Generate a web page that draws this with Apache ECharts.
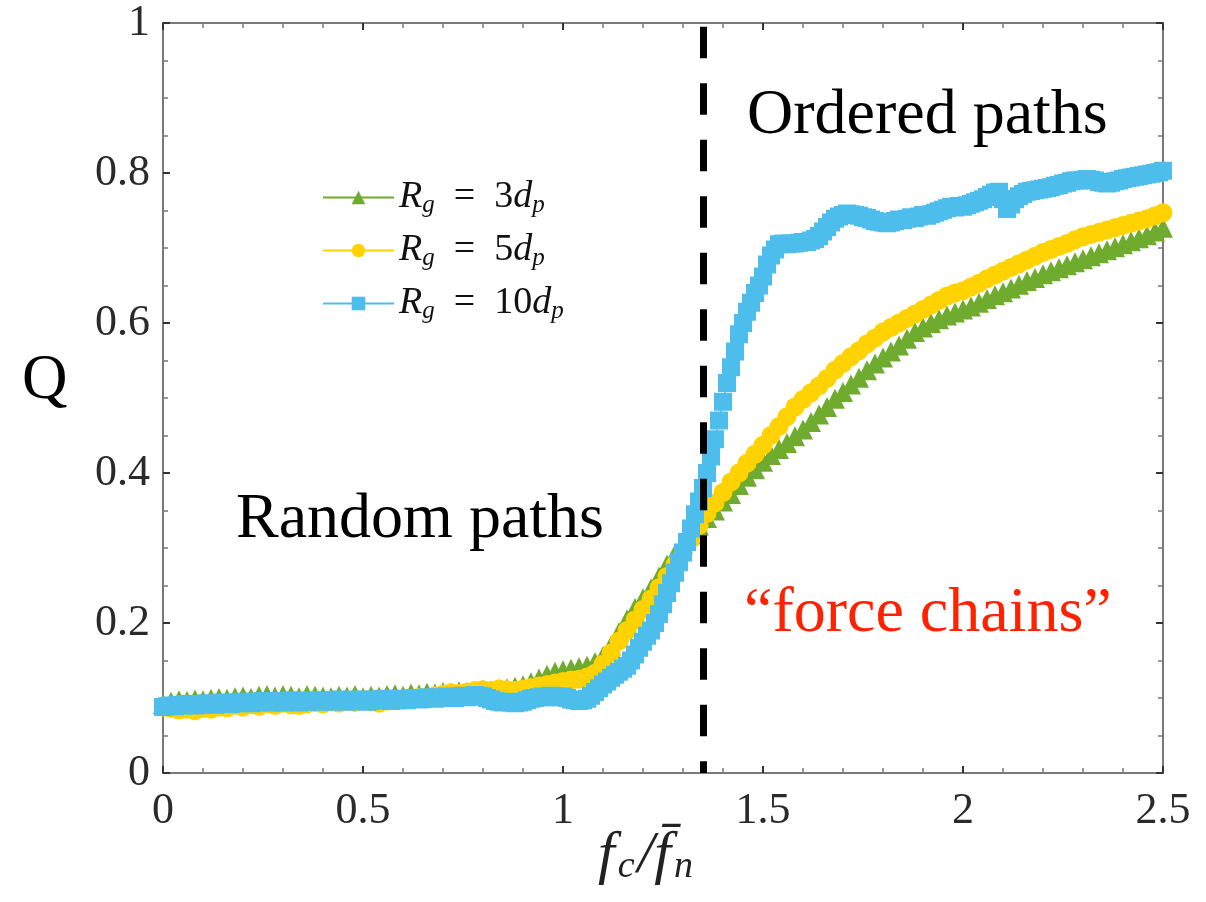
<!DOCTYPE html>
<html>
<head>
<meta charset="utf-8">
<script src="https://cdn.jsdelivr.net/npm/echarts@6/dist/echarts.min.js"></script>
<style>
  html, body { margin: 0; padding: 0; background: #fff; }
  #chart { width: 1206px; height: 902px; }
</style>
</head>
<body>
<div id="chart"></div>
<script>
// Q against f_c / mean f_n for three grain radii

// Coarse sampling (step 0.02) used by the R_g = 3d_p and 5d_p runs
const coarseStep = 0.02;
// Fine sampling (step 0.01) used by the R_g = 10d_p run
const fineStep = 0.01;

const q3 = [
  0.092, 0.095, 0.097, 0.096, 0.098, 0.097, 0.099, 0.100, 0.099, 0.101,
  0.102, 0.100, 0.103, 0.104, 0.102, 0.104, 0.103, 0.101, 0.104, 0.103,
  0.102, 0.101, 0.103, 0.102, 0.104, 0.101, 0.103, 0.102, 0.104, 0.105,
  0.103, 0.106, 0.105, 0.107, 0.106, 0.108, 0.107, 0.109, 0.108, 0.110,
  0.111, 0.110, 0.112, 0.113, 0.115, 0.117, 0.121, 0.126, 0.131, 0.135,
  0.137, 0.139, 0.141, 0.143, 0.148, 0.156, 0.170, 0.188, 0.205, 0.220,
  0.233, 0.246, 0.262, 0.278, 0.292, 0.305, 0.318, 0.330, 0.340, 0.350,
  0.362, 0.372, 0.384, 0.395, 0.405, 0.415, 0.424, 0.432, 0.440, 0.449,
  0.458, 0.468, 0.478, 0.488, 0.499, 0.508, 0.518, 0.527, 0.537, 0.546,
  0.554, 0.562, 0.570, 0.579, 0.588, 0.594, 0.600, 0.605, 0.610, 0.614,
  0.618, 0.622, 0.627, 0.632, 0.637, 0.641, 0.646, 0.651, 0.656, 0.660,
  0.665, 0.669, 0.673, 0.677, 0.681, 0.685, 0.689, 0.693, 0.697, 0.701,
  0.705, 0.709, 0.713, 0.717, 0.722, 0.727
];

const q5 = [
  0.088, 0.086, 0.084, 0.085, 0.083, 0.086, 0.085, 0.088, 0.087, 0.090,
  0.088, 0.091, 0.089, 0.092, 0.090, 0.093, 0.091, 0.090, 0.092, 0.094,
  0.092, 0.095, 0.093, 0.096, 0.094, 0.097, 0.095, 0.093, 0.096, 0.098,
  0.097, 0.099, 0.101, 0.100, 0.103, 0.105, 0.107, 0.106, 0.108, 0.110,
  0.111, 0.110, 0.112, 0.111, 0.110, 0.112, 0.114, 0.116, 0.118, 0.120,
  0.122, 0.124, 0.125, 0.128, 0.133, 0.145, 0.160, 0.176, 0.190, 0.204,
  0.218, 0.232, 0.247, 0.262, 0.278, 0.294, 0.312, 0.330, 0.346, 0.360,
  0.374, 0.388, 0.400, 0.413, 0.425, 0.437, 0.450, 0.462, 0.475, 0.488,
  0.498, 0.507, 0.516, 0.526, 0.537, 0.546, 0.555, 0.563, 0.572, 0.580,
  0.588, 0.594, 0.600, 0.606, 0.612, 0.618, 0.624, 0.630, 0.636, 0.640,
  0.643, 0.648, 0.653, 0.659, 0.664, 0.669, 0.674, 0.679, 0.684, 0.689,
  0.694, 0.698, 0.702, 0.706, 0.711, 0.715, 0.718, 0.721, 0.724, 0.727,
  0.730, 0.733, 0.736, 0.739, 0.743, 0.747
];

const q10 = [
  0.088, 0.089, 0.090, 0.089, 0.091, 0.090, 0.092, 0.091, 0.090, 0.092,
  0.091, 0.093, 0.092, 0.091, 0.093, 0.094, 0.093, 0.092, 0.094, 0.093,
  0.095, 0.094, 0.093, 0.095, 0.094, 0.096, 0.095, 0.094, 0.096, 0.095,
  0.094, 0.096, 0.097, 0.095, 0.094, 0.096, 0.095, 0.097, 0.096, 0.095,
  0.097, 0.096, 0.095, 0.097, 0.098, 0.096, 0.095, 0.097, 0.096, 0.098,
  0.097, 0.095, 0.096, 0.098, 0.097, 0.099, 0.098, 0.096, 0.097, 0.099,
  0.098, 0.097, 0.099, 0.100, 0.098, 0.099, 0.101, 0.100, 0.099, 0.101,
  0.100, 0.102, 0.101, 0.100, 0.102, 0.103, 0.101, 0.102, 0.104, 0.103,
  0.102, 0.100, 0.098, 0.096, 0.095, 0.094, 0.095, 0.094, 0.093, 0.094,
  0.095, 0.097, 0.099, 0.100, 0.101, 0.102, 0.101, 0.103, 0.102, 0.101,
  0.102, 0.100, 0.098, 0.097, 0.096, 0.097, 0.099, 0.103, 0.108, 0.113,
  0.118, 0.122, 0.127, 0.131, 0.135, 0.139, 0.143, 0.150, 0.158, 0.167,
  0.175, 0.183, 0.190, 0.200, 0.212, 0.225, 0.240, 0.253, 0.267, 0.281,
  0.294, 0.308, 0.326, 0.345, 0.362, 0.380, 0.400, 0.422, 0.445, 0.470,
  0.495, 0.520, 0.541, 0.562, 0.585, 0.600, 0.615, 0.627, 0.640, 0.650,
  0.662, 0.678, 0.690, 0.698, 0.705, 0.706, 0.705, 0.706, 0.706, 0.707,
  0.708, 0.708, 0.710, 0.712, 0.716, 0.722, 0.728, 0.734, 0.739, 0.742,
  0.744, 0.746, 0.745, 0.744, 0.743, 0.741, 0.740, 0.738, 0.736, 0.735,
  0.734, 0.733, 0.734, 0.736, 0.738, 0.737, 0.739, 0.741, 0.740, 0.742,
  0.744, 0.743, 0.745, 0.747, 0.749, 0.751, 0.753, 0.755, 0.754, 0.756,
  0.755, 0.757, 0.759, 0.761, 0.763, 0.765, 0.768, 0.771, 0.774, 0.775,
  0.765, 0.752, 0.758, 0.765, 0.769, 0.772, 0.775, 0.776, 0.777, 0.778,
  0.779, 0.780, 0.781, 0.783, 0.784, 0.786, 0.787, 0.789, 0.790, 0.790,
  0.791, 0.792, 0.791, 0.790, 0.788, 0.787, 0.786, 0.787, 0.789, 0.790,
  0.792, 0.793, 0.794, 0.795, 0.796, 0.797, 0.798, 0.799, 0.800, 0.801,
  0.803
];

const seriesNames = ['Rg = 3dp', 'Rg = 5dp', 'Rg = 10dp'];
const legendRich = [
  '{i|R}{s|g}{t|  =  3}{i|d}{s|p}',
  '{i|R}{s|g}{t|  =  5}{i|d}{s|p}',
  '{i|R}{s|g}{t|  =  10}{i|d}{s|p}'
];
const xTicks = [0, 0.5, 1, 1.5, 2, 2.5];
const yTicks = [0, 0.2, 0.4, 0.6, 0.8, 1];
const transitionX = 1.35;

const colors = ['#6fab2e', '#ffd200', '#4dbdec'];
const symbols = ['triangle', 'circle', 'rect'];
const symbolSizes = [20, 19, 18];

function pairs(values, step) {
  return values.map((v, i) => [+(i * step).toFixed(2), v]);
}

const serif = '"Liberation Serif", "DejaVu Serif", serif';

const chart = echarts.init(document.getElementById('chart'), null, { renderer: 'canvas' });

const baseAxis = {
  axisLine: { show: true, onZero: false, lineStyle: { color: '#7a7a7a', width: 2 } },
  axisTick: { show: true, inside: true, length: 7, lineStyle: { color: '#333', width: 2 } },
  minorTick: { show: true, length: 5, lineStyle: { color: '#777', width: 1.5 } },
  splitLine: { show: false },
  minorSplitLine: { show: false }
};

const dataSets = [pairs(q3, coarseStep), pairs(q5, coarseStep), pairs(q10, fineStep)];

const series = dataSets.map((d, k) => ({
  name: seriesNames[k],
  type: 'line',
  data: d,
  symbol: symbols[k],
  symbolSize: symbolSizes[k],
  showAllSymbol: true,
  clip: false,
  lineStyle: { color: colors[k], width: 1.5 },
  itemStyle: { color: colors[k] },
  emphasis: { disabled: true },
  animation: false,
  z: 2 + k
}));

series.push({
  type: 'line',
  data: [],
  silent: true,
  animation: false,
  markLine: {
    silent: true,
    symbol: 'none',
    label: { show: false },
    lineStyle: { color: '#000', width: 7, type: [31.5, 25], opacity: 1 },
    data: [[{ coord: [transitionX, 0.995] }, { coord: [transitionX, 0] }]]
  },
  z: 10
});

chart.setOption({
  animation: false,
  backgroundColor: '#fff',
  grid: { left: 163, right: 43, top: 23, bottom: 129, containLabel: false },
  xAxis: [
    Object.assign({}, baseAxis, {
      type: 'value', min: 0, max: 2.5, interval: 0.5,
      minorTick: Object.assign({}, baseAxis.minorTick, { splitNumber: 5 }),
      axisLabel: {
        margin: 16, color: '#2a2a2a', fontSize: 44, fontFamily: serif,
        formatter: v => xTicks.includes(+v.toFixed(2)) ? String(+v.toFixed(2)) : ''
      }
    }),
    Object.assign({}, baseAxis, {
      type: 'value', min: 0, max: 2.5, interval: 0.5, position: 'top',
      minorTick: Object.assign({}, baseAxis.minorTick, { splitNumber: 5 }),
      axisLabel: { show: false }
    })
  ],
  yAxis: [
    Object.assign({}, baseAxis, {
      type: 'value', min: 0, max: 1, interval: 0.2,
      minorTick: Object.assign({}, baseAxis.minorTick, { splitNumber: 4 }),
      axisLabel: {
        margin: 13, color: '#2a2a2a', fontSize: 44, fontFamily: serif,
        formatter: v => {
          const r = +v.toFixed(2);
          return yTicks.includes(r) ? String(r) : '';
        }
      }
    }),
    Object.assign({}, baseAxis, {
      type: 'value', min: 0, max: 1, interval: 0.2, position: 'right',
      minorTick: Object.assign({}, baseAxis.minorTick, { splitNumber: 4 }),
      axisLabel: { show: false }
    })
  ],
  legend: {
    orient: 'vertical',
    left: 317,
    top: 172,
    itemWidth: 71,
    itemHeight: 17,
    itemGap: 12,
    data: seriesNames,
    selectedMode: false,
    formatter: name => legendRich[seriesNames.indexOf(name)],
    textStyle: {
      color: '#111',
      lineHeight: 38,
      padding: [0, 0, 0, 0],
      rich: {
        i: { fontFamily: serif, fontStyle: 'italic', fontSize: 38, color: '#111', lineHeight: 38 },
        t: { fontFamily: serif, fontSize: 38, color: '#111', lineHeight: 38 },
        s: { fontFamily: serif, fontStyle: 'italic', fontSize: 25, color: '#111', lineHeight: 38, padding: [16, 0, 0, 0] }
      }
    }
  },
  graphic: [
    {
      type: 'text', left: 22, top: 350,
      style: { text: 'Q', font: '63px ' + serif, fill: '#000' }
    },
    {
      type: 'text', left: 747, top: 84,
      style: { text: 'Ordered paths', font: '64px ' + serif, fill: '#000' }
    },
    {
      type: 'text', left: 236, top: 488,
      style: { text: 'Random paths', font: '64px ' + serif, fill: '#000' }
    },
    {
      type: 'text', left: 744, top: 582,
      style: { text: '\u201cforce chains\u201d', font: '64px ' + serif, fill: '#ff2200' }
    },
    {
      type: 'text', left: 598, top: 826,
      style: {
        text: '{i|f}{s|c}{i|/}{i|f\u0304}{s|n}',
        rich: {
          i: { fontFamily: serif, fontStyle: 'italic', fontSize: 60, fill: '#222', lineHeight: 66 },
          s: { fontFamily: serif, fontStyle: 'italic', fontSize: 38, fill: '#222', lineHeight: 66, padding: [22, 3, 0, 3] }
        }
      }
    }
  ],
  series: series
});
</script>
</body>
</html>
